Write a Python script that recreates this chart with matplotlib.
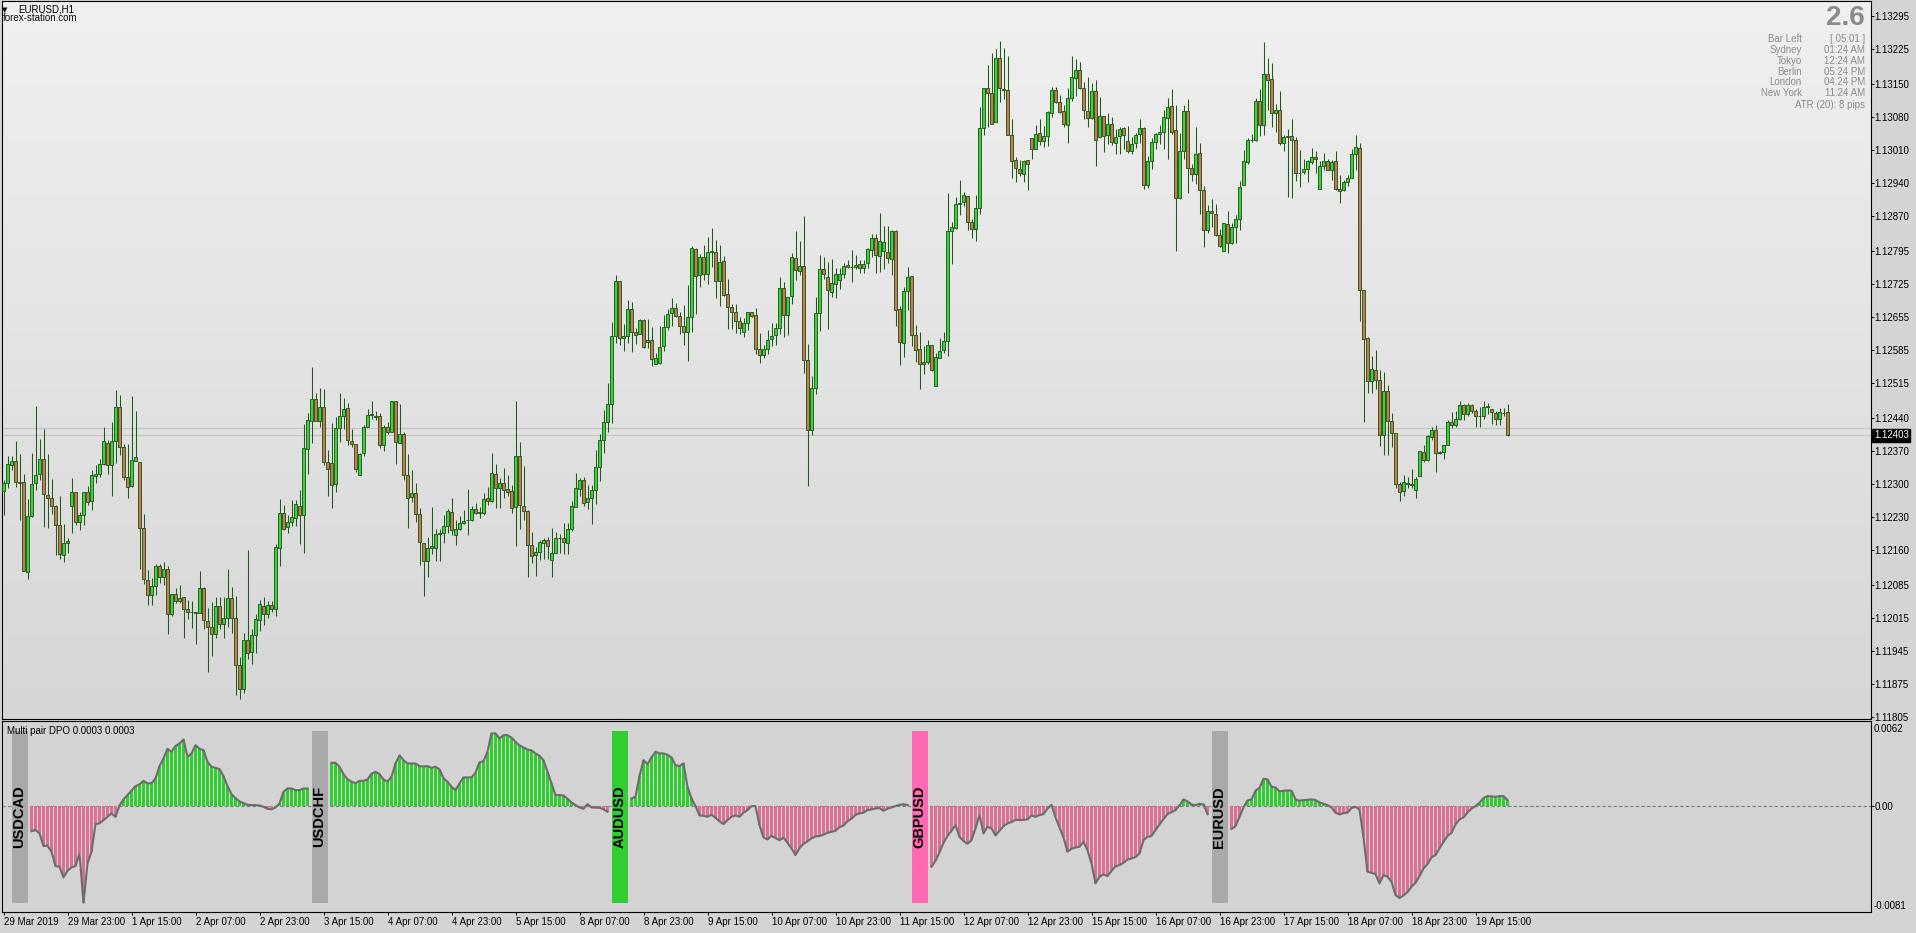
import numpy as np
import matplotlib.pyplot as plt
import matplotlib.transforms as mtransforms
from matplotlib.patches import Rectangle
from matplotlib.colors import LinearSegmentedColormap

plt.rcParams['font.family'] = ['Liberation Sans', 'DejaVu Sans']

# EURUSD H1 candles, 29 Mar 2019 07:00 .. 19 Apr 23:00
# prices stored in points above 1.10000 (2403 -> 1.12403)
opens = [
    2285, 2301, 2340, 2348, 2303, 2303, 2112, 2231, 2301, 2320,
    2352, 2276, 2271, 2253, 2212, 2148, 2174, 2254, 2282, 2218,
    2233, 2282, 2263, 2316, 2322, 2342, 2386, 2340, 2391, 2463,
    2378, 2314, 2295, 2348, 2346, 2206, 2095, 2063, 2082, 2125,
    2103, 2120, 2023, 2065, 2052, 2059, 2035, 2027, 2027, 2025,
    2078, 2008, 1995, 1980, 2040, 2003, 2014, 2057, 2014, 1914,
    1863, 1969, 1943, 1978, 2010, 2040, 2023, 2042, 2035, 2163,
    2239, 2208, 2218, 2227, 2254, 2233, 2374, 2433, 2480, 2433,
    2463, 2346, 2345, 2299, 2418, 2444, 2461, 2391, 2384, 2318,
    2365, 2420, 2446, 2444, 2444, 2382, 2422, 2410, 2476, 2388,
    2407, 2318, 2273, 2280, 2235, 2174, 2137, 2163, 2163, 2193,
    2195, 2210, 2241, 2192, 2205, 2216, 2223, 2223, 2246, 2238,
    2238, 2271, 2264, 2322, 2292, 2301, 2290, 2285, 2250, 2360,
    2254, 2243, 2171, 2148, 2156, 2175, 2180, 2139, 2154, 2186,
    2184, 2175, 2205, 2251, 2290, 2309, 2262, 2269, 2288, 2337,
    2394, 2432, 2469, 2614, 2731, 2611, 2614, 2673, 2622, 2618,
    2648, 2601, 2605, 2556, 2558, 2594, 2633, 2663, 2674, 2658,
    2635, 2623, 2654, 2799, 2744, 2782, 2746, 2793, 2793, 2731,
    2774, 2703, 2676, 2665, 2646, 2623, 2642, 2665, 2659, 2586,
    2574, 2586, 2608, 2616, 2631, 2716, 2659, 2699, 2780, 2752,
    2763, 2563, 2414, 2505, 2663, 2757, 2740, 2708, 2725, 2733,
    2746, 2765, 2761, 2762, 2767, 2759, 2769, 2797, 2822, 2784,
    2795, 2793, 2779, 2837, 2671, 2599, 2711, 2743, 2616, 2586,
    2554, 2560, 2596, 2508, 2567, 2584, 2603, 2837, 2845, 2896,
    2900, 2913, 2858, 2843, 2886, 3056, 3141, 3132, 3069, 3205,
    3139, 3137, 3043, 2988, 2969, 2960, 2988, 3035, 3013, 3047,
    3030, 3039, 3088, 3137, 3113, 3092, 3064, 3120, 3164, 3181,
    3143, 3094, 3079, 3135, 3037, 3083, 3041, 3066, 3026, 3039,
    3056, 3030, 3007, 3024, 3045, 3056, 2935, 2986, 3028, 3045,
    3049, 3079, 3103, 3052, 2907, 3007, 3094, 2971, 2960, 3003,
    2926, 2839, 2881, 2875, 2830, 2796, 2852, 2813, 2847, 2864,
    2935, 2984, 3032, 3032, 3115, 3064, 3171, 3162, 3088, 3096,
    3026, 3037, 3039, 3032, 2962, 2964, 2969, 2984, 2996, 2928,
    2977, 2986, 2967, 2986, 2927, 2924, 2941, 2950, 3001, 3014,
    2712, 2610, 2518, 2542, 2520, 2405, 2497, 2433, 2408, 2299,
    2284, 2301, 2299, 2288, 2316, 2367, 2350, 2399, 2414, 2365,
    2367, 2382, 2431, 2425, 2439, 2467, 2448, 2467, 2454, 2444,
    2444, 2463, 2459, 2450, 2437, 2450, 2452,
]
highs = [
    2308, 2359, 2359, 2391, 2364, 2320, 2267, 2365, 2466, 2396,
    2416, 2364, 2311, 2255, 2274, 2215, 2184, 2313, 2282, 2241,
    2282, 2296, 2330, 2340, 2353, 2421, 2393, 2432, 2500, 2489,
    2384, 2384, 2487, 2455, 2346, 2237, 2117, 2099, 2129, 2129,
    2133, 2125, 2065, 2078, 2086, 2059, 2054, 2052, 2027, 2115,
    2080, 2037, 2048, 2059, 2059, 2059, 2120, 2080, 2061, 1932,
    1982, 2159, 1991, 2023, 2053, 2059, 2051, 2050, 2172, 2267,
    2256, 2233, 2265, 2265, 2288, 2427, 2451, 2549, 2493, 2505,
    2502, 2372, 2429, 2442, 2493, 2483, 2472, 2416, 2384, 2365,
    2425, 2459, 2476, 2456, 2451, 2425, 2431, 2476, 2476, 2469,
    2410, 2363, 2329, 2301, 2248, 2174, 2188, 2251, 2205, 2205,
    2233, 2246, 2269, 2223, 2232, 2244, 2290, 2253, 2260, 2250,
    2280, 2294, 2365, 2343, 2312, 2333, 2319, 2297, 2476, 2390,
    2338, 2244, 2198, 2166, 2180, 2184, 2187, 2207, 2197, 2193,
    2216, 2216, 2263, 2324, 2312, 2314, 2297, 2297, 2373, 2407,
    2458, 2514, 2645, 2745, 2731, 2641, 2691, 2687, 2632, 2650,
    2650, 2650, 2633, 2579, 2636, 2660, 2671, 2695, 2684, 2665,
    2680, 2723, 2805, 2801, 2788, 2808, 2825, 2844, 2818, 2808,
    2784, 2736, 2682, 2682, 2656, 2652, 2665, 2665, 2674, 2620,
    2595, 2628, 2642, 2642, 2740, 2729, 2697, 2791, 2837, 2816,
    2869, 2597, 2529, 2697, 2786, 2782, 2771, 2778, 2759, 2759,
    2769, 2776, 2797, 2786, 2776, 2776, 2801, 2832, 2831, 2876,
    2848, 2848, 2841, 2839, 2678, 2718, 2762, 2743, 2638, 2622,
    2593, 2607, 2596, 2579, 2611, 2624, 2918, 2856, 2911, 2947,
    2920, 2913, 2864, 2915, 3101, 3143, 3191, 3216, 3225, 3242,
    3226, 3209, 3077, 2996, 2988, 2988, 2988, 3035, 3064, 3075,
    3062, 3094, 3145, 3144, 3128, 3105, 3141, 3211, 3203, 3198,
    3154, 3165, 3152, 3158, 3122, 3083, 3088, 3081, 3054, 3059,
    3058, 3062, 3037, 3047, 3075, 3058, 2998, 3035, 3047, 3064,
    3096, 3120, 3139, 3105, 3047, 3105, 3118, 2981, 3060, 3026,
    2933, 2894, 2905, 2895, 2843, 2854, 2881, 2854, 2871, 2945,
    3011, 3035, 3045, 3121, 3139, 3239, 3205, 3195, 3109, 3135,
    3043, 3054, 3075, 3037, 3011, 2990, 2988, 3015, 3007, 2986,
    3003, 2992, 2988, 3009, 2958, 2946, 2958, 3012, 3042, 3024,
    2712, 2612, 2573, 2585, 2542, 2539, 2510, 2450, 2408, 2305,
    2318, 2314, 2331, 2314, 2369, 2382, 2405, 2420, 2425, 2371,
    2382, 2435, 2452, 2454, 2476, 2469, 2473, 2469, 2459, 2463,
    2476, 2473, 2459, 2454, 2461, 2461, 2469,
]
lows = [
    2234, 2291, 2330, 2293, 2223, 2114, 2098, 2230, 2287, 2308,
    2209, 2206, 2237, 2148, 2140, 2133, 2152, 2196, 2213, 2203,
    2212, 2255, 2244, 2301, 2315, 2340, 2322, 2275, 2344, 2362,
    2308, 2271, 2294, 2348, 2118, 2087, 2042, 2042, 2063, 2089,
    2086, 1980, 2020, 2046, 2046, 1972, 2012, 1993, 1959, 2025,
    1991, 1901, 1935, 1972, 1991, 1972, 1996, 1982, 1852, 1842,
    1856, 1928, 1918, 1940, 1988, 2000, 2015, 2027, 2020, 2126,
    2203, 2195, 2211, 2211, 2173, 2152, 2322, 2388, 2433, 2422,
    2341, 2275, 2249, 2283, 2390, 2416, 2383, 2378, 2325, 2318,
    2360, 2420, 2439, 2435, 2376, 2369, 2407, 2410, 2343, 2388,
    2308, 2207, 2261, 2220, 2127, 2061, 2101, 2150, 2135, 2135,
    2174, 2195, 2191, 2171, 2203, 2214, 2192, 2221, 2237, 2228,
    2234, 2256, 2262, 2248, 2248, 2269, 2274, 2238, 2168, 2205,
    2223, 2101, 2131, 2105, 2138, 2141, 2140, 2102, 2152, 2152,
    2150, 2150, 2200, 2250, 2274, 2253, 2246, 2214, 2258, 2307,
    2366, 2411, 2430, 2599, 2595, 2583, 2599, 2581, 2597, 2618,
    2589, 2588, 2551, 2555, 2555, 2583, 2627, 2636, 2656, 2619,
    2596, 2562, 2622, 2662, 2718, 2733, 2726, 2762, 2696, 2679,
    2699, 2630, 2630, 2620, 2619, 2612, 2627, 2654, 2576, 2557,
    2567, 2576, 2594, 2595, 2618, 2613, 2616, 2682, 2733, 2744,
    2535, 2296, 2403, 2491, 2625, 2735, 2630, 2697, 2696, 2714,
    2737, 2759, 2729, 2757, 2748, 2748, 2759, 2782, 2748, 2750,
    2757, 2769, 2744, 2636, 2553, 2570, 2669, 2594, 2560, 2501,
    2533, 2554, 2540, 2508, 2567, 2579, 2573, 2768, 2843, 2871,
    2890, 2839, 2824, 2816, 2875, 3043, 3058, 3066, 3069, 3113,
    3119, 3041, 2950, 2943, 2954, 2941, 2926, 2990, 3013, 3020,
    3017, 3018, 3081, 3111, 3088, 3058, 3026, 3115, 3126, 3139,
    3075, 3059, 3077, 2977, 3035, 3005, 3023, 3020, 3001, 3001,
    3013, 3003, 3001, 3015, 3024, 2928, 2930, 2969, 3013, 3022,
    3013, 2991, 3045, 2796, 2906, 2990, 2919, 2945, 2937, 2875,
    2803, 2833, 2847, 2828, 2803, 2796, 2790, 2811, 2813, 2841,
    2935, 2981, 3028, 3030, 3039, 3043, 3096, 3060, 3049, 3020,
    3007, 2910, 2907, 2945, 2932, 2960, 2942, 2981, 2962, 2928,
    2967, 2967, 2946, 2924, 2897, 2922, 2933, 2950, 2967, 2647,
    2431, 2493, 2493, 2501, 2380, 2361, 2361, 2378, 2291, 2263,
    2274, 2291, 2291, 2271, 2316, 2346, 2348, 2393, 2325, 2363,
    2352, 2382, 2418, 2422, 2435, 2435, 2444, 2450, 2420, 2422,
    2437, 2448, 2427, 2425, 2425, 2444, 2401,
]
closes = [
    2301, 2342, 2348, 2303, 2301, 2114, 2231, 2299, 2318, 2352,
    2278, 2271, 2252, 2212, 2151, 2174, 2178, 2282, 2218, 2234,
    2282, 2261, 2318, 2320, 2342, 2391, 2340, 2391, 2463, 2378,
    2314, 2293, 2350, 2357, 2206, 2097, 2063, 2082, 2125, 2103,
    2120, 2023, 2065, 2050, 2057, 2035, 2027, 2027, 2025, 2078,
    2010, 1995, 1980, 2040, 2003, 2014, 2057, 2014, 1914, 1863,
    1969, 1941, 1978, 2012, 2044, 2023, 2042, 2033, 2165, 2239,
    2205, 2218, 2229, 2257, 2233, 2376, 2435, 2480, 2433, 2463,
    2346, 2331, 2297, 2418, 2444, 2459, 2393, 2384, 2331, 2363,
    2420, 2446, 2448, 2442, 2382, 2422, 2410, 2476, 2390, 2407,
    2318, 2271, 2280, 2235, 2176, 2137, 2163, 2167, 2193, 2196,
    2210, 2242, 2203, 2205, 2217, 2221, 2224, 2247, 2238, 2241,
    2268, 2264, 2324, 2292, 2301, 2288, 2283, 2248, 2360, 2256,
    2243, 2171, 2146, 2156, 2177, 2180, 2167, 2154, 2186, 2184,
    2177, 2205, 2254, 2292, 2308, 2260, 2269, 2288, 2337, 2394,
    2431, 2469, 2614, 2731, 2611, 2614, 2673, 2622, 2616, 2648,
    2592, 2605, 2565, 2567, 2592, 2633, 2662, 2674, 2658, 2635,
    2623, 2654, 2801, 2742, 2782, 2746, 2793, 2795, 2731, 2771,
    2701, 2677, 2665, 2646, 2631, 2642, 2665, 2657, 2586, 2574,
    2586, 2606, 2614, 2631, 2716, 2659, 2697, 2782, 2754, 2763,
    2563, 2414, 2503, 2663, 2757, 2746, 2712, 2727, 2746, 2746,
    2763, 2761, 2762, 2765, 2759, 2767, 2799, 2822, 2786, 2816,
    2814, 2780, 2837, 2669, 2601, 2711, 2741, 2616, 2584, 2554,
    2560, 2596, 2543, 2569, 2582, 2603, 2837, 2847, 2896, 2898,
    2915, 2858, 2843, 2886, 3056, 3141, 3132, 3066, 3205, 3141,
    3137, 3043, 2986, 2971, 2962, 2986, 2981, 3013, 3045, 3030,
    3039, 3090, 3137, 3113, 3090, 3066, 3120, 3166, 3181, 3141,
    3096, 3079, 3135, 3032, 3083, 3039, 3066, 3028, 3037, 3054,
    3041, 3009, 3022, 3043, 3056, 2935, 2986, 3028, 3045, 3049,
    3081, 3101, 3049, 2907, 3007, 3094, 2971, 2960, 3001, 2926,
    2841, 2881, 2877, 2830, 2807, 2854, 2813, 2847, 2864, 2932,
    2986, 3032, 3032, 3115, 3064, 3171, 3160, 3088, 3096, 3024,
    3037, 3039, 3032, 2962, 2962, 2969, 2986, 2996, 2990, 2977,
    2986, 2967, 2984, 2927, 2922, 2941, 2950, 3001, 3016, 2712,
    2608, 2518, 2544, 2520, 2405, 2497, 2433, 2408, 2299, 2282,
    2303, 2299, 2297, 2310, 2369, 2350, 2401, 2414, 2365, 2367,
    2382, 2431, 2425, 2439, 2467, 2448, 2467, 2454, 2444, 2444,
    2463, 2465, 2452, 2437, 2452, 2450, 2403,
]

bid_price = 1.12403
ask_price = 1.12419

price_labels = ['1.13295', '1.13225', '1.13150', '1.13080', '1.13010', '1.12940',
                '1.12870', '1.12795', '1.12725', '1.12655', '1.12585', '1.12515',
                '1.12440', '1.12370', '1.12300', '1.12230', '1.12160', '1.12085',
                '1.12015', '1.11945', '1.11875', '1.11805']

date_labels = ['29 Mar 2019', '29 Mar 23:00', '1 Apr 15:00', '2 Apr 07:00', '2 Apr 23:00',
               '3 Apr 15:00', '4 Apr 07:00', '4 Apr 23:00', '5 Apr 15:00', '8 Apr 07:00',
               '8 Apr 23:00', '9 Apr 15:00', '10 Apr 07:00', '10 Apr 23:00', '11 Apr 15:00',
               '12 Apr 07:00', '12 Apr 23:00', '15 Apr 15:00', '16 Apr 07:00', '16 Apr 23:00',
               '17 Apr 15:00', '18 Apr 07:00', '18 Apr 23:00', '19 Apr 15:00']

# Multi pair DPO, values in 1e-4
pairs = ['USDCAD', 'USDCHF', 'AUDUSD', 'GBPUSD', 'EURUSD']
pair_colors = ['#a9a9a9', '#a9a9a9', '#32cd32', '#ff69b4', '#a9a9a9']
dpo_usdcad = [-19.4, -18.6, -21.1, -30.7, -30.5, -35.0, -45.9, -46.4, -54.5, -49.5,
              -46.9, -45.9, -36.3, -73.7, -43.9, -35.0, -14.0, -13.5, -11.0, -8.5,
              -5.9, -8.5, 0.1, 4.7, 8.0, 11.3, 14.8, 16.1, 18.8, 16.8,
              17.1, 20.6, 30.0, 35.8, 43.1, 40.9, 45.2, 47.2, 50.2, 37.1,
              39.6, 45.9, 43.1, 42.1, 33.3, 29.5, 28.7, 27.7, 22.4, 14.8,
              8.7, 5.7, 3.2, 1.9, 0.6, 0.4, 0.4, 0.1, -0.9, -2.4,
              -2.9, -1.4, 1.6, 10.5, 13.0, 13.0, 11.8, 11.8, 13.0, 13.0]
dpo_usdchf = [32.5, 32.5, 29.5, 23.9, 20.1, 18.1, 17.1, 18.8, 18.8, 19.9,
              24.2, 25.7, 23.9, 19.9, 18.3, 21.9, 32.0, 38.1, 34.5, 32.0,
              32.0, 32.0, 30.0, 29.7, 30.0, 28.7, 29.5, 27.5, 20.9, 18.1,
              14.3, 11.8, 16.8, 21.4, 21.4, 21.4, 24.9, 32.8, 33.8, 40.9,
              54.8, 54.8, 51.0, 53.5, 53.5, 51.7, 48.4, 45.7, 44.1, 42.6,
              41.9, 39.6, 37.8, 34.5, 25.7, 16.8, 8.0, 8.0, 7.7, 5.2,
              2.4, 0.4, -1.4, -2.4, 1.1, -1.4, -1.6, -1.6, -2.9, -4.7]
dpo_audusd = [5.4, 6.7, 22.4, 34.5, 31.5, 36.6, 40.9, 39.6, 39.6, 38.6,
              36.6, 30.7, 30.0, 32.0, 14.3, 5.4, -0.4, -7.5, -7.7, -8.5,
              -7.0, -9.2, -12.0, -14.0, -11.0, -8.5, -7.5, -8.5, -5.4, -3.4,
              -0.4, -0.4, -14.8, -24.2, -25.7, -22.9, -24.7, -26.2, -24.4, -28.2,
              -32.5, -37.6, -32.3, -29.0, -27.2, -24.9, -23.4, -23.1, -22.1, -20.6,
              -19.9, -19.1, -16.3, -15.1, -11.8, -10.0, -7.0, -5.9, -5.4, -3.4,
              -2.9, -2.2, -1.9, -3.9, -2.4, -1.4, -0.4, 0.6, 1.1, 0.4]
dpo_gbpusd = [-46.4, -41.9, -35.5, -28.2, -23.1, -19.1, -14.8, -23.7, -26.9, -29.0,
              -26.2, -17.3, -7.2, -21.1, -16.1, -17.3, -22.6, -19.1, -15.6, -13.5,
              -12.5, -10.8, -11.0, -10.8, -10.5, -7.5, -8.5, -7.2, -6.5, -2.2,
              0.6, -9.0, -16.6, -24.2, -35.0, -32.8, -31.8, -31.2, -27.5, -33.8,
              -43.9, -59.1, -54.0, -52.2, -53.5, -49.5, -46.2, -45.2, -43.4, -40.9,
              -40.1, -39.1, -36.3, -26.2, -23.7, -23.1, -18.6, -14.3, -10.2, -6.5,
              -4.9, -3.4, 0.1, 4.7, 3.2, 0.9, 0.4, 1.4, 0.9, -6.5]
dpo_eurusd = [-17.8, -15.6, -8.5, -1.4, 3.9, 4.7, 11.3, 13.5, 20.4, 19.9,
              14.3, 13.8, 10.8, 11.3, 11.5, 11.3, 4.7, 3.7, 4.2, 4.4,
              4.7, 4.2, 2.4, 1.4, 0.4, -1.4, -5.4, -6.7, -5.7, -5.4,
              -1.9, -0.9, -2.9, -24.2, -50.2, -51.0, -52.0, -59.1, -52.8, -54.0,
              -57.8, -67.9, -70.2, -68.2, -65.7, -61.6, -58.6, -53.5, -47.7, -44.4,
              -39.3, -37.6, -32.5, -27.5, -23.1, -20.6, -14.3, -10.5, -9.0, -5.2,
              -2.4, -0.4, 2.2, 5.7, 7.2, 7.0, 6.7, 7.2, 7.2, 4.2]
dpo_series = [dpo_usdcad, dpo_usdchf, dpo_audusd, dpo_gbpusd, dpo_eurusd]
seg_first = [7, 82, 157, 232, 307]

info_names = ['Bar Left', 'Sydney', 'Tokyo', 'Berlin', 'London', 'New York']
info_values = ['[ 05:01 ]', '01:24 AM', '12:24 AM', '05:24 PM', '04:24 PM', '11:24 AM']

# ---- figure layout in pixels ----
W, H = 1916, 933
fig = plt.figure(figsize=(W / 100, H / 100), dpi=100, facecolor='#d4d4d4')


def px_axes(x0, y0, x1, y1):
    return fig.add_axes([x0 / W, 1 - y1 / H, (x1 - x0) / W, (y1 - y0) / H])


def ftext(x, y, s, **kw):
    fig.text(x / W, 1 - y / H, s, **kw)


ax = px_axes(2, 1, 1870.5, 719)
ax2 = px_axes(2, 721.3, 1870.5, 912.3)
xlim = (-0.375, 466.75)

WICK = '#1f5a1a'
BULL = '#3ad23a'
BEAR = '#d0764e'

# main chart background gradient
cmap = LinearSegmentedColormap.from_list('bg', ['#f0f0f0', '#d6d6d6'])
ax.imshow(np.linspace(0, 1, 256).reshape(-1, 1), cmap=cmap, aspect='auto',
          extent=(0, 1, 0, 1), transform=ax.transAxes, zorder=0)

o = 1.1 + np.array(opens) / 1e5
h = 1.1 + np.array(highs) / 1e5
l = 1.1 + np.array(lows) / 1e5
c = 1.1 + np.array(closes) / 1e5
idx = np.arange(len(c))
up = c >= o

ax.axhline(ask_price, color='#c3c3c3', lw=0.8, zorder=1)
ax.axhline(bid_price, color='#c3c3c3', lw=0.8, zorder=1)
ax.vlines(idx, np.minimum(l, np.minimum(o, c)), np.maximum(h, np.maximum(o, c)),
          color=WICK, lw=0.75, zorder=3)
ax.bar(idx, np.maximum(np.abs(c - o), 2e-6), bottom=np.minimum(o, c), width=0.58,
       color=np.where(up, BULL, BEAR), edgecolor=WICK, linewidth=0.65, zorder=4)

ax.set_xlim(*xlim)
ax.set_ylim(1.11800, 1.13327)
ax.tick_params(axis='x', bottom=False, labelbottom=False)
ax.yaxis.tick_right()
ax.set_yticks([float(s) for s in price_labels])
ax.set_yticklabels(price_labels)
ax.tick_params(axis='y', direction='out', length=1.8, width=0.7, pad=1.2,
               labelsize=7, colors='black')
for sp in ax.spines.values():
    sp.set_color('black')
    sp.set_linewidth(0.8)

ax.annotate(f'{bid_price:.5f}', xy=(1, bid_price), xycoords=('axes fraction', 'data'),
            xytext=(2.4, 0), textcoords='offset points', ha='left', va='center',
            color='white', fontsize=7,
            bbox=dict(boxstyle='square,pad=0.18', fc='black', ec='black'))

# ---- indicator window ----
ax2.set_facecolor('#d3d3d3')
ax2.axhline(0, color='#7a7a7a', lw=0.8, ls=(0, (3, 2)), zorder=1)
blend = mtransforms.blended_transform_factory(ax2.transData, ax2.transAxes)
for k, vals in enumerate(dpo_series):
    v = np.array(vals) * 1e-4
    xs = np.arange(len(v)) + seg_first[k]
    ax2.bar(xs, v, width=0.72, color=np.where(v >= 0, '#32cd32', '#db7093'),
            linewidth=0, zorder=2)
    ax2.plot(xs, v, color='#6c6c6c', lw=1.5, zorder=3)
    left = seg_first[k] - 5
    ax2.add_patch(Rectangle((left, 0.05), 4, 0.9, transform=blend,
                            facecolor=pair_colors[k], edgecolor='none', zorder=4))
    ax2.text(left + 2, 0.5, pairs[k], rotation=90, transform=blend, ha='center',
             va='center', fontsize=10.5, fontweight='bold', color='black', zorder=5)

ax2.set_xlim(*xlim)
ax2.set_ylim(-0.0081, 0.0064)
tick_pos = np.arange(len(date_labels)) * 16
ax2.set_xticks(tick_pos)
ax2.set_xticklabels([])
ax2.tick_params(axis='x', direction='out', length=2.5, width=0.7, colors='black')
for x, s in zip(tick_pos, date_labels):
    ax2.text(x, -0.049, s, transform=blend, ha='left', va='center', fontsize=7)
ax2.yaxis.tick_right()
ax2.set_yticks([0])
ax2.set_yticklabels(['0.00'])
ax2.tick_params(axis='y', direction='out', length=1.8, width=0.7, pad=1.2, labelsize=7)
ax2.annotate('0.0062', xy=(1, 0.96), xycoords='axes fraction', xytext=(2.4, 0),
             textcoords='offset points', ha='left', va='center', fontsize=7)
ax2.annotate('-0.0081', xy=(1, 0.035), xycoords='axes fraction', xytext=(2.4, 0),
             textcoords='offset points', ha='left', va='center', fontsize=7)
for sp in ax2.spines.values():
    sp.set_color('black')
    sp.set_linewidth(0.8)
ax2.text(0.0029, 0.95, 'Multi pair DPO 0.0003 0.0003', transform=ax2.transAxes,
         ha='left', va='center', fontsize=7, zorder=6)

# ---- header texts ----
ftext(5, 10, '\u25bc', fontsize=5, ha='center', va='center', family='DejaVu Sans')
ftext(18.5, 10, 'EURUSD,H1', fontsize=7, ha='left', va='center')
ftext(3, 18.3, 'forex-station.com', fontsize=7, ha='left', va='center', color='#101010')

ftext(1864.5, 18, '2.6', fontsize=20, fontweight='bold', color='#8a8a8a',
      ha='right', va='center')
for r, (name, val) in enumerate(zip(info_names, info_values)):
    y = 39.3 + r * 10.75
    ftext(1802, y, name, fontsize=7, color='#8c8c8c', ha='right', va='center')
    ftext(1865, y, val, fontsize=7, color='#8c8c8c', ha='right', va='center')
ftext(1865, 104.5, 'ATR (20): 8 pips', fontsize=7, color='#8c8c8c', ha='right', va='center')

fig.savefig('out.png', dpi=100, facecolor=fig.get_facecolor())
